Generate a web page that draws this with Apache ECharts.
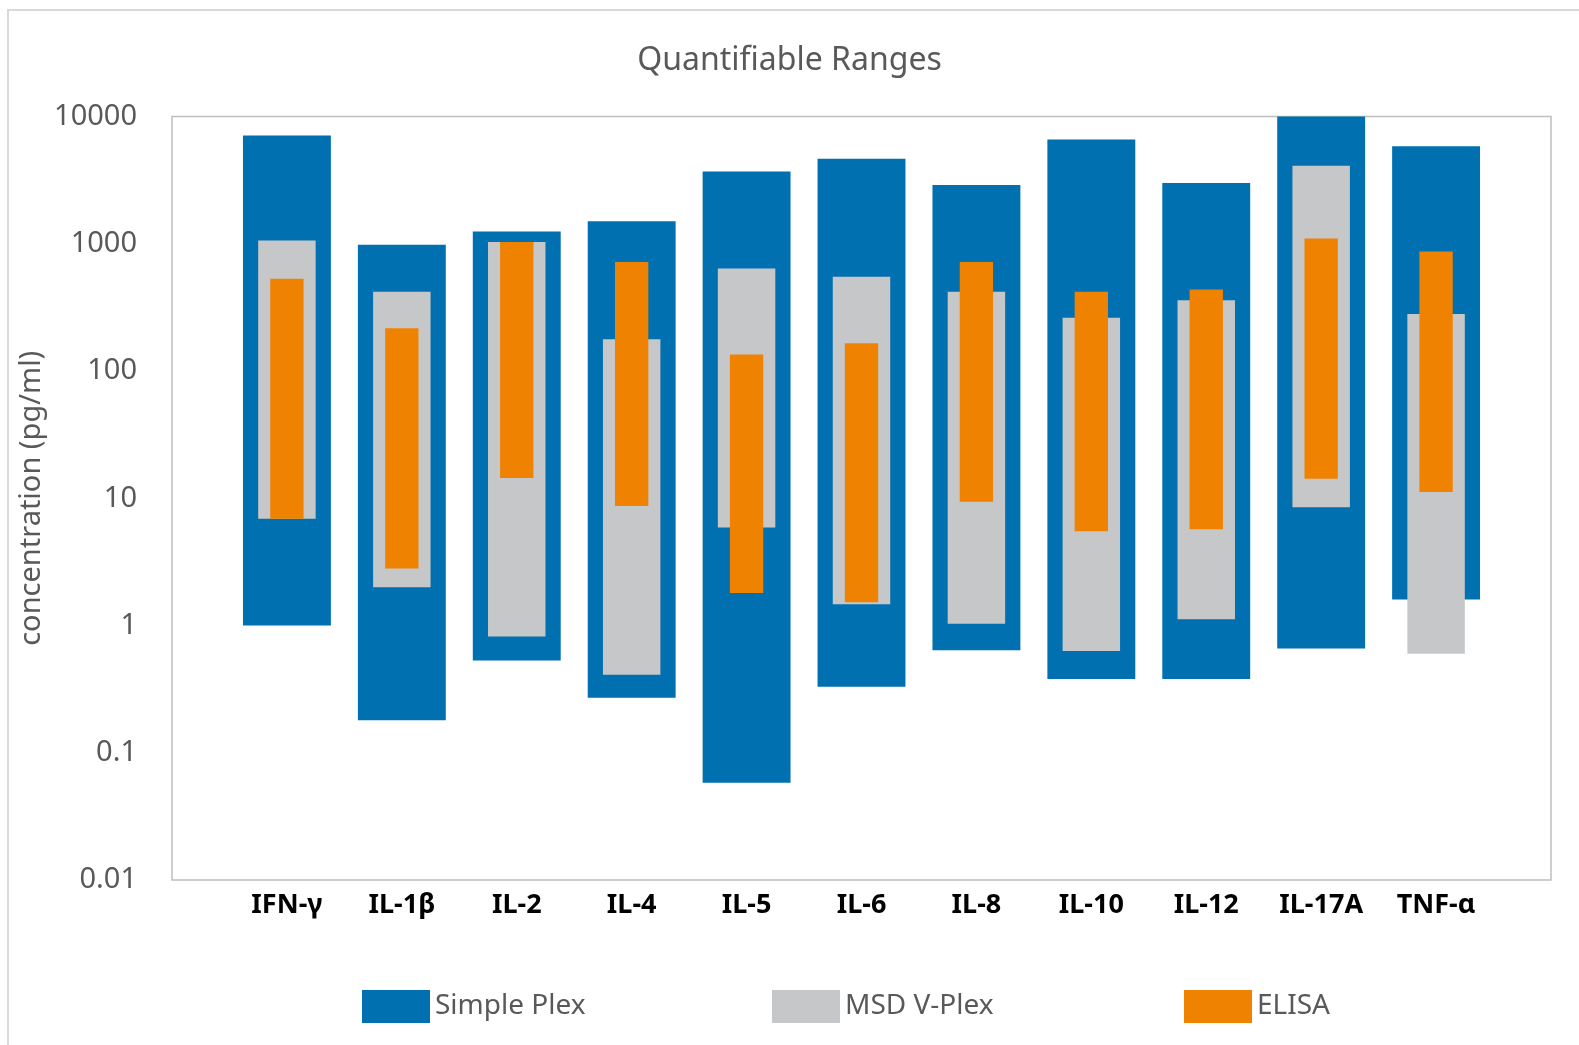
<!DOCTYPE html>
<html>
<head>
<meta charset="utf-8">
<script src="https://cdn.jsdelivr.net/npm/echarts@6/dist/echarts.min.js"></script>
<style>
  html, body { margin: 0; padding: 0; background: #fff; }
  #chart { width: 1579px; height: 1045px; }
</style>
</head>
<body>
<div id="chart"></div>
<script>
const categories = ['IFN-γ', 'IL-1β', 'IL-2', 'IL-4', 'IL-5', 'IL-6', 'IL-8', 'IL-10', 'IL-12', 'IL-17A', 'TNF-α']
const yTicks = ['0.01', '0.1', '1', '10', '100', '1000', '10000']
const seriesNames = ['Simple Plex', 'MSD V-Plex', 'ELISA']

// low / high end of the quantifiable range, pg/ml
const simplePlexLow  = [1.0, 0.18, 0.53, 0.27, 0.058, 0.33, 0.64, 0.38, 0.38, 0.66, 1.6]
const simplePlexHigh = [7100, 980, 1250, 1500, 3700, 4650, 2900, 6600, 3000, 10000, 5850]
const msdLow  = [6.9, 2.0, 0.82, 0.41, 5.9, 1.47, 1.03, 0.63, 1.12, 8.5, 0.6]
const msdHigh = [1060, 420, 1030, 178, 640, 550, 420, 262, 360, 4100, 280]
const elisaLow  = [6.9, 2.8, 14.4, 8.7, 1.8, 1.52, 9.4, 5.5, 5.7, 14.2, 11.2]
const elisaHigh = [530, 217, 1030, 720, 135, 165, 720, 420, 437, 1100, 870]

const font = 'Noto Sans'
const grey = '#595959'

function rangeSeries(name, color, frac, low, high) {
  return {
    name,
    type: 'custom',
    itemStyle: { color },
    encode: { x: 0, y: [1, 2] },
    data: low.map((lo, i) => [i + 1, lo, high[i]]),
    renderItem(params, api) {
      const x = api.value(0)
      const bottom = api.coord([x, api.value(1)])
      const top = api.coord([x, api.value(2)])
      const w = api.size([1, 1])[0] * frac
      return {
        type: 'rect',
        shape: { x: bottom[0] - w / 2, y: top[1], width: w, height: bottom[1] - top[1] },
        style: { fill: api.visual('color') }
      }
    }
  }
}

// one legend per item so the spacing is even like the original
const legendLefts = [357, 767, 1179]
const legends = seriesNames.map((name, i) => ({
  data: [name],
  left: legendLefts[i],
  top: 985,
  itemWidth: 68,
  itemHeight: 33,
  icon: 'rect',
  textStyle: { fontFamily: font, fontSize: 28, color: grey }
}))

const chart = echarts.init(document.getElementById('chart'))
window.onresize = () => chart.resize()

chart.setOption({
  animation: false,
  textStyle: { fontFamily: font },
  graphic: [{
    type: 'rect',
    shape: { x: 8, y: 10, width: 1700, height: 1200 },
    style: { fill: 'none', stroke: '#d9d9d9', lineWidth: 2 },
    silent: true
  }],
  title: {
    text: 'Quantifiable Ranges',
    left: 'center',
    top: 40,
    textStyle: { fontFamily: font, fontSize: 32, fontWeight: 'normal', color: grey }
  },
  legend: legends,
  grid: {
    left: 172,
    right: 28,
    top: 116.5,
    bottom: 165,
    show: true,
    borderColor: '#bfbfbf',
    borderWidth: 1.5
  },
  xAxis: {
    type: 'value',
    min: 0,
    max: 12,
    interval: 1,
    axisLine: { show: false },
    axisTick: { show: false },
    splitLine: { show: false },
    axisLabel: {
      margin: 12,
      fontFamily: font,
      fontSize: 27,
      fontWeight: 'bold',
      color: '#000',
      formatter: v => categories[v - 1] || ''
    }
  },
  yAxis: {
    type: 'log',
    logBase: 10,
    min: 0.01,
    max: 10000,
    name: 'concentration (pg/ml)',
    nameLocation: 'middle',
    nameRotate: 90,
    nameGap: 126,
    nameMoveOverlap: false,
    nameTextStyle: { fontFamily: font, fontSize: 29, color: grey },
    axisLine: { show: false },
    axisTick: { show: false },
    splitLine: { show: false },
    axisLabel: {
      margin: 35,
      fontFamily: font,
      fontSize: 29,
      color: grey,
      formatter: v => yTicks[Math.round(Math.log10(v)) + 2]
    }
  },
  series: [
    rangeSeries(seriesNames[0], '#0070b0', 0.765, simplePlexLow, simplePlexHigh),
    rangeSeries(seriesNames[1], '#c6c7c9', 0.50, msdLow, msdHigh),
    rangeSeries(seriesNames[2], '#ef8200', 0.29, elisaLow, elisaHigh)
  ]
})
</script>
</body>
</html>
